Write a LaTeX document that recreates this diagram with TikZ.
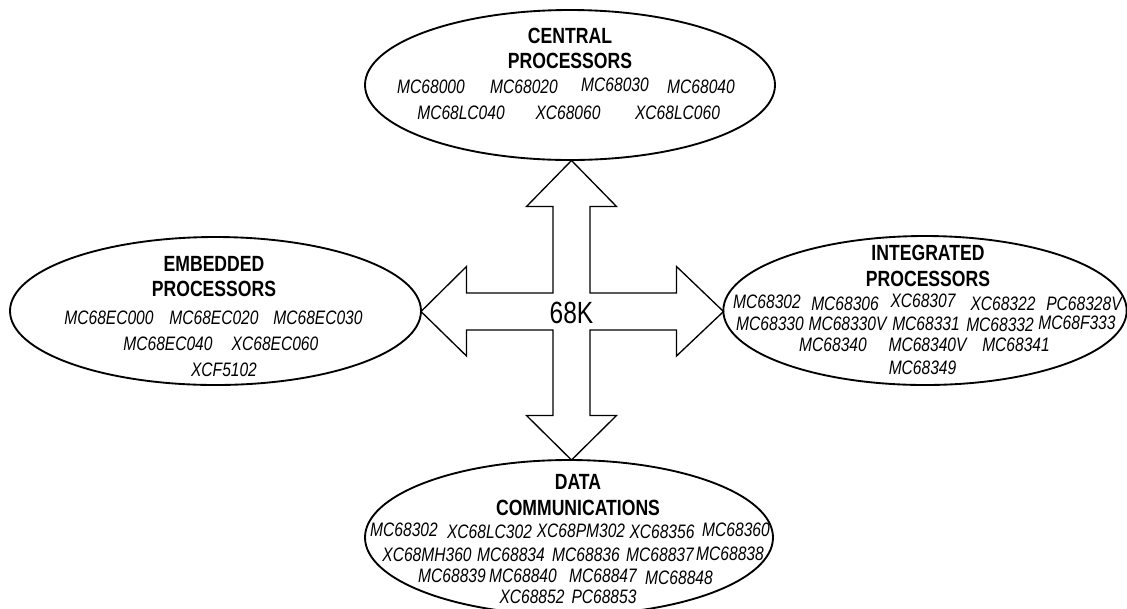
\documentclass[tikz,border=0pt]{standalone}
\usepackage{fontspec}
\setmainfont{Liberation Sans}[FakeStretch=0.8]
\usepackage{tikz}
\usetikzlibrary{shapes.geometric}

\tikzset{
  famoval/.style={ellipse, draw, line width=1.4pt, inner sep=0pt},
  famtitle/.style={align=center, inner sep=0pt, font=\fontsize{16.5}{18.9}\selectfont\bfseries},
  part/.style={inner sep=0pt, font=\fontsize{14.6}{16}\selectfont\itshape},
}

\begin{document}
\begin{tikzpicture}[x=0.75pt,y=-0.75pt]
\useasboundingbox (0,0) rectangle (1127,608);
% the four families
\node[famoval, minimum width=307.5pt, minimum height=112.5pt] (cpu) at (570,85) {};
\node[famoval, minimum width=308.25pt, minimum height=111pt] (emb) at (215.5,311) {};
\node[famoval, minimum width=302.5pt, minimum height=111.75pt] (integ) at (925,310.5) {};
\node[famoval, minimum width=306pt, minimum height=116.25pt] (dcom) at (569,537.5) {};
\node[famtitle] (cputitle) at (570,48.5) {CENTRAL\\PROCESSORS};
\node[famtitle] (embtitle) at (214,276.5) {EMBEDDED\\PROCESSORS};
\node[famtitle] (integtitle) at (928,266) {INTEGRATED\\PROCESSORS};
\node[famtitle] (dcomtitle) at (578,495) {DATA\\COMMUNICATIONS};
% cross of arrows
\draw[line width=1pt, line join=miter]
  (571.5,160.5) -- (616.5,206.5) -- (590,206.5) -- (590,293) -- (676.5,293)
  -- (676.5,266.5) -- (723.5,311.5) -- (676.5,356) -- (676.5,330) -- (590,330)
  -- (590,415.5) -- (616.5,415.5) -- (571.5,460) -- (526.5,415.5) -- (553,415.5)
  -- (553,330) -- (466.5,330) -- (466.5,356) -- (421,311.5) -- (466.5,266.5)
  -- (466.5,293) -- (553,293) -- (553,206.5) -- (526.5,206.5) -- cycle;
\node[inner sep=0pt, font=\fontsize{23}{26}\selectfont] (hub) at (571.5,313) {68K};
% part numbers
\foreach \x/\y/\t [count=\i] in {431/87/MC68000, 524/87/MC68020, 615/85/MC68030,
    701/87/MC68040, 461/113/MC68LC040, 568/113/XC68060, 677.5/113/XC68LC060}
  \node[part] (cpu\i) at (\x,\y) {\t};
\foreach \x/\y/\t [count=\i] in {109/318/MC68EC000, 214/318/MC68EC020,
    318/318/MC68EC030, 168/344/MC68EC040, 275/344/XC68EC060, 224/370/XCF5102}
  \node[part] (emb\i) at (\x,\y) {\t};
\foreach \x/\y/\t [count=\i] in {767/302/MC68302, 845/304/MC68306, 923/301/XC68307,
    1003/304/XC68322, 1084/304/PC68328V, 770/324/MC68330, 847.5/324/MC68330V,
    926/324/MC68331, 1000/325/MC68332, 1077/323/MC68F333, 833/345/MC68340,
    927.5/345/MC68340V, 1016/345/MC68341, 922.5/368/MC68349}
  \node[part] (integ\i) at (\x,\y) {\t};
\foreach \x/\y/\t [count=\i] in {404/530/MC68302, 489.5/532/XC68LC302,
    581/531/XC68PM302, 662/532/XC68356, 736/530/MC68360, 427/555/XC68MH360,
    511/555/MC68834, 586/555/MC68836, 660/555/MC68837, 730/554/MC68838,
    452/576/MC68839, 523/576/MC68840, 603/576/MC68847, 679/578/MC68848,
    532/597/XC68852, 604/597/PC68853}
  \node[part] (dcom\i) at (\x,\y) {\t};
\end{tikzpicture}
\end{document}
